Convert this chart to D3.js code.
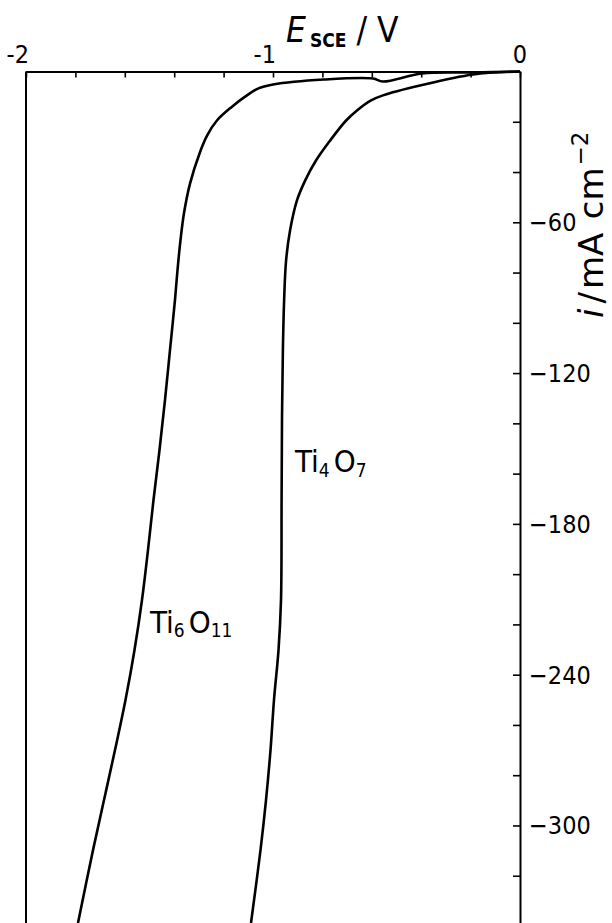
<!DOCTYPE html>
<html>
<head>
<meta charset="utf-8">
<script src="https://cdn.jsdelivr.net/npm/d3@7"></script>
<style>
  html, body { margin: 0; padding: 0; background: #fff; }
  svg { display: block; }
  text { font-family: "Liberation Sans Narrow", "DejaVu Sans Condensed", "Liberation Sans", sans-serif; fill: #000; }
</style>
</head>
<body>
<svg id="chart" width="612" height="923"></svg>
<script>
// ======================================================================
// DATA (E vs SCE in V, current density i in mA cm^-2)
// ======================================================================

var ti4o7E = [0, -0.190, -0.405, -0.555, -0.603, -0.660, -0.704, -0.769, -0.826, -0.870, -0.903,
              -0.931, -0.947, -0.955, -0.960, -0.9636, -0.9652, -0.9676, -0.9777, -0.9960, -1.0101,
              -1.0283, -1.0506, -1.0891];
var ti4o7I = [0, -1.2, -5.6, -9.5, -11.5, -15.5, -19.5, -27.5, -35.4, -43.4, -51.3,
              -63.3, -75.2, -91.1, -111, -138.7, -170.5, -210.3, -230.2, -250.1, -270.0,
              -289.9, -309.8, -338.8];

var ti6o11E = [0, -0.190, -0.397, -0.555, -0.595, -0.794, -1.0, -1.061, -1.113, -1.166, -1.227,
               -1.267, -1.296, -1.336, -1.3603, -1.3745, -1.3866, -1.3968, -1.4170, -1.4372,
               -1.4595, -1.4838, -1.5061, -1.5304, -1.5607, -1.5972, -1.6397, -1.6842, -1.7287, -1.7895];
var ti6o11I = [0, -0.4, -0.8, -4.0, -2.8, -3.2, -5.2, -6.8, -10.0, -14.0, -19.5,
               -25.5, -32.2, -44.6, -56.3, -67.1, -79.0, -90.9, -110.8, -130.7,
               -150.6, -170.5, -190.4, -210.3, -230.2, -250.1, -270.0, -289.9, -309.8, -338.8];

var xTicks = [-2, -1.8, -1.6, -1.4, -1.2, -1, -0.8, -0.6, -0.4, -0.2, 0];
var xLabels = [-2, -1, 0];
var yTicks = [0, -20, -40, -60, -80, -100, -120, -140, -160, -180, -200, -220, -240, -260, -280, -300, -320, -340];
var yLabels = [-60, -120, -180, -240, -300];

// ======================================================================
// SCALES
// ======================================================================

var svg = d3.select("#chart");
var x = d3.scaleLinear().domain([-2, 0]).range([26, 520]);
var y = d3.scaleLinear().domain([0, -340]).range([71.5, 926]);

function pts(es, is) {
    return es.map(function(e, k) { return [e, is[k]]; });
}

// ======================================================================
// AXES
// ======================================================================

// top axis, ticks pointing down into the plot
svg.append("g")
    .attr("transform", "translate(0," + y(0) + ")")
    .call(d3.axisTop(x).tickValues(xTicks).tickSizeInner(-6).tickSizeOuter(0).tickFormat(""))
    .call(function(g) {
        g.select(".domain").attr("stroke-width", 2);
        g.selectAll(".tick line").attr("stroke-width", 1.6);
    });

// right axis, ticks pointing left
svg.append("g")
    .attr("transform", "translate(" + x(0) + ",0)")
    .call(d3.axisRight(y).tickValues(yTicks).tickSizeInner(-7).tickSizeOuter(0).tickFormat(""))
    .call(function(g) {
        g.select(".domain").attr("stroke-width", 2);
        g.selectAll(".tick line").attr("stroke-width", 1.6);
    });

// left frame line
svg.append("line")
    .attr("x1", x(-2)).attr("x2", x(-2))
    .attr("y1", y(0)).attr("y2", 923)
    .attr("stroke", "#000").attr("stroke-width", 2);

// top tick labels
svg.selectAll(".xlab").data(xLabels).enter().append("text")
    .attr("class", "xlab")
    .attr("x", function(d) { return d === 0 ? x(d) : x(d) + 3; })
    .attr("y", 63)
    .attr("text-anchor", function(d) { return d === 0 ? "middle" : "end"; })
    .style("font-size", "25px")
    .text(function(d) { return d === 0 ? "0" : "-" + Math.abs(d); });

// right tick labels
svg.selectAll(".ylab").data(yLabels).enter().append("text")
    .attr("class", "ylab")
    .attr("x", x(0) + 9)
    .attr("y", function(d) { return y(d) + 9; })
    .attr("text-anchor", "start")
    .style("font-size", "25px")
    .text(function(d) { return "\u2212" + Math.abs(d); });

// x title
var xt = svg.append("text").attr("x", 286).attr("y", 42).style("font-size", "35px");
xt.append("tspan").style("font-style", "italic").text("E");
xt.append("tspan").attr("dy", 5).attr("dx", 4).style("font-size", "19px").style("font-weight", "bold").text("SCE");
xt.append("tspan").attr("dy", -5).attr("dx", 10).text("/ V");

// y title (rotated)
var yt = svg.append("text")
    .attr("transform", "translate(603,318) rotate(-90)")
    .style("font-size", "34px")
    .style("font-family", "'DejaVu Sans', sans-serif");
yt.append("tspan").style("font-style", "italic").text("i");
yt.append("tspan").attr("dx", 5).text("/");
yt.append("tspan").attr("dx", 3).text("mA");
yt.append("tspan").attr("dx", 14).text("cm");
yt.append("tspan").attr("dy", -15).attr("dx", 2).style("font-size", "23px").text("\u22122");

// ======================================================================
// CURVES
// ======================================================================

var line = d3.line()
    .x(function(d) { return x(d[0]); })
    .y(function(d) { return y(d[1]); })
    .curve(d3.curveCatmullRom.alpha(0.5));

svg.append("path")
    .datum(pts(ti4o7E, ti4o7I))
    .attr("d", line)
    .attr("fill", "none").attr("stroke", "#000").attr("stroke-width", 2.6);

svg.append("path")
    .datum(pts(ti6o11E, ti6o11I))
    .attr("d", line)
    .attr("fill", "none").attr("stroke", "#000").attr("stroke-width", 2.6);

// ======================================================================
// CURVE LABELS
// ======================================================================

function formula(px, py, parts) {
    var t = svg.append("text").attr("x", px).attr("y", py).style("font-size", "31px");
    parts.forEach(function(p) {
        t.append("tspan")
            .attr("dy", p.dy).attr("dx", p.dx)
            .style("font-size", p.size + "px")
            .text(p.s);
    });
}

formula(295, 472, [
    {s: "Ti", dy: 0, dx: 0, size: 31},
    {s: "4", dy: 5, dx: 0, size: 19},
    {s: "O", dy: -5, dx: 4, size: 31},
    {s: "7", dy: 5, dx: 0, size: 19}
]);

formula(150, 633, [
    {s: "Ti", dy: 0, dx: 0, size: 31},
    {s: "6", dy: 4, dx: 0, size: 19},
    {s: "O", dy: -4, dx: 4, size: 31},
    {s: "11", dy: 4, dx: 0, size: 19}
]);
</script>
</body>
</html>
